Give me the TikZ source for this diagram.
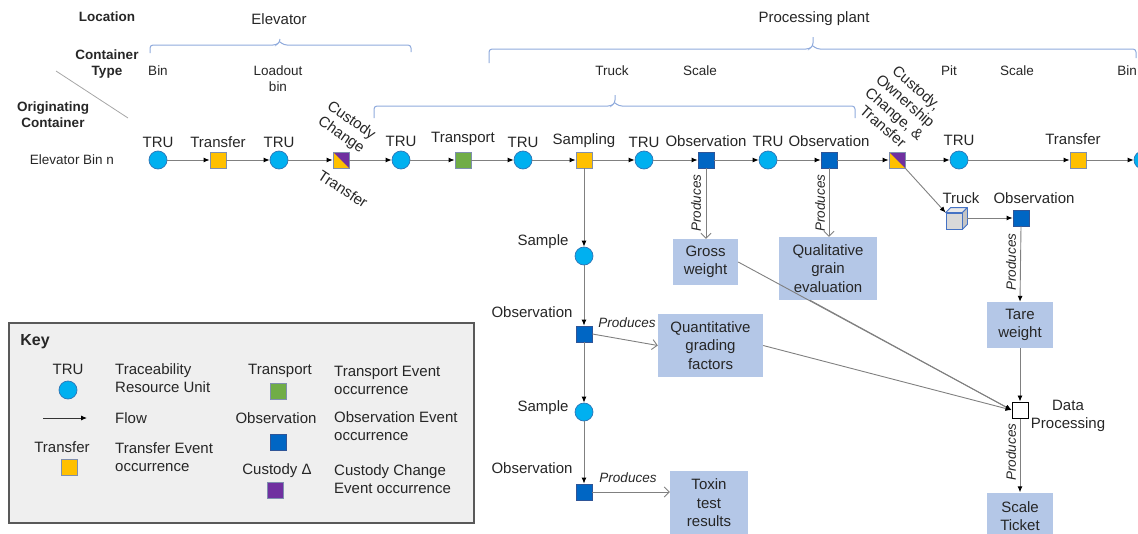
\documentclass[tikz,border=0pt]{standalone}
\usepackage{fontspec}
\setmainfont{Liberation Sans}
\usetikzlibrary{arrows.meta}
\definecolor{truFill}{HTML}{00B0F0}
\definecolor{truEdge}{HTML}{2E75B6}
\definecolor{xferFill}{HTML}{FFC000}
\definecolor{evtEdge}{HTML}{7F8FAF}
\definecolor{transFill}{HTML}{70AD47}
\definecolor{obsFill}{HTML}{0066C4}
\definecolor{obsEdge}{HTML}{2F5597}
\definecolor{custFill}{HTML}{7030A0}
\definecolor{dataFill}{HTML}{B4C7E7}
\definecolor{braceCol}{HTML}{8FAADC}
\definecolor{flowCol}{HTML}{808080}
\definecolor{keyFill}{HTML}{EFEFEF}
\definecolor{keyEdge}{HTML}{595959}
\definecolor{cubeFill}{HTML}{D9D9D9}
\definecolor{cubeTop}{HTML}{E8E8E8}
\definecolor{cubeSide}{HTML}{C4C4C4}
\definecolor{cubeEdge}{HTML}{4472C4}
\definecolor{textCol}{HTML}{262626}
\begin{document}
\begin{tikzpicture}[x=1pt,y=-1pt,
  every node/.style={inner sep=0pt, text=textCol},
  lab/.style={font=\fontsize{15}{17.5}\selectfont, align=center},
  sml/.style={font=\fontsize{13.5}{16}\selectfont, align=center},
  hdr/.style={font=\bfseries\fontsize{13.5}{16}\selectfont, align=center},
  keytxt/.style={font=\fontsize{15}{18}\selectfont, align=left, anchor=west},
  prodlab/.style={font=\itshape\fontsize{13.5}{16}\selectfont},
  tru/.style={circle, fill=truFill, draw=truEdge, line width=0.7pt, minimum size=18pt},
  evt/.style={rectangle, draw=evtEdge, line width=0.8pt, minimum size=16pt},
  xfer/.style={evt, fill=xferFill},
  transp/.style={evt, fill=transFill},
  obs/.style={evt, fill=obsFill, draw=obsEdge},
  cust/.style={evt, fill=custFill},
  split/.style={evt, fill=xferFill, path picture={
      \fill[custFill] (path picture bounding box.north west) --
        (path picture bounding box.north east) --
        (path picture bounding box.south east) -- cycle;}},
  procsq/.style={rectangle, fill=white, draw=black, line width=1pt, minimum size=16pt},
  databox/.style={rectangle, fill=dataFill, align=center,
      font=\fontsize{15}{18.5}\selectfont},
  flow/.style={draw=flowCol, line width=0.9pt, -{Latex[length=6pt,width=5pt,color=black]}},
  prod/.style={draw=flowCol, line width=0.9pt, -{Straight Barb[length=5pt,width=10pt]}},
  brace/.style={draw=braceCol, line width=1pt, rounded corners=3pt},
  cubeface/.style={draw=cubeEdge, line width=0.8pt, line join=round}
]
\useasboundingbox (0,0) rectangle (1138,533);

% ---------- header rows ----------
\node[hdr] (hLoc) at (107,17) {Location};
\node[hdr] (hCont) at (107,64) {Container\\Type};
\node[hdr] (hOrig) at (53,115) {Originating\\Container};
\draw[draw=flowCol!70, line width=0.8pt] (56,71) -- (128,118);
\node[sml] (rowName) at (72,160) {Elevator Bin n};

\node[lab] (locElev) at (279,19) {Elevator};
\node[lab] (locProc) at (814,19) {Processing plant};

\node[sml] (ctBin) at (158,71) {Bin};
\node[sml] (ctLoad) at (278,79) {Loadout\\bin};
\node[sml] (ctTruck) at (612,71) {Truck};
\node[sml] (ctScale) at (700,71) {Scale};
\node[sml] (ctPit) at (949,71) {Pit};
\node[sml] (ctScale2) at (1017,71) {Scale};
\node[sml] (ctBin2) at (1127,71) {Bin};

% location and container braces
\draw[brace] (150,53) -- (150,45) -- (276,45) -- (280,42) -- (280,39)
  (280,42) -- (284,45) -- (411,45) -- (411,52);
\draw[brace] (489,63) -- (489,49) -- (809,49) -- (813,46) -- (813,37)
  (813,46) -- (817,49) -- (1136,49) -- (1136,58);
\draw[brace] (374,118) -- (374,106) -- (611,106) -- (615,103) -- (615,95)
  (615,103) -- (619,106) -- (855,106) -- (855,118);

% ---------- main chain ----------
\node[tru] (n1) at (158,160) {};
\node[xfer] (t1) at (218,160) {};
\node[tru] (n2) at (279,160) {};
\node[split] (c1) at (341,160) {};
\node[tru] (n3) at (401,160) {};
\node[transp] (tp) at (463,160) {};
\node[tru] (n4) at (523,160) {};
\node[xfer] (smp) at (584,160) {};
\node[tru] (n5) at (644,160) {};
\node[obs] (o1) at (706,160) {};
\node[tru] (n6) at (768,160) {};
\node[obs] (o2) at (829,160) {};
\node[split] (c2) at (897,160) {};
\node[tru] (n7) at (959,160) {};
\node[xfer] (t2) at (1078,160) {};
\node[tru] (n8) at (1143,160) {};

\node[lab] (ln1) at (158,142) {TRU};
\node[lab] (lt1) at (218,142) {Transfer};
\node[lab] (ln2) at (279,142) {TRU};
\node[lab, rotate=-35] (lc1) at (346,128) {Custody\\Change};
\node[lab, rotate=-33] (lc1b) at (343,189) {Transfer};
\node[lab] (ln3) at (401,141) {TRU};
\node[lab] (ltp) at (463,139) {Transport};
\node[lab] (ln4) at (523,142) {TRU};
\node[lab] (lsmp) at (584,141) {Sampling};
\node[lab] (ln5) at (644,142) {TRU};
\node[lab] (lo1) at (706,141) {Observation};
\node[lab] (ln6) at (768,141) {TRU};
\node[lab] (lo2) at (829,141) {Observation};
\node[lab, rotate=-41, font=\fontsize{15}{17}\selectfont] (lc2) at (900,107)
  {Custody,\\Ownership\\Change, \&\\Transfer};
\node[lab] (ln7) at (959,140) {TRU};
\node[lab] (lt2) at (1073,139) {Transfer};

\draw[flow] (n1) -- (t1);
\draw[flow] (t1) -- (n2);
\draw[flow] (n2) -- (c1);
\draw[flow] (c1) -- (n3);
\draw[flow] (n3) -- (tp);
\draw[flow] (tp) -- (n4);
\draw[flow] (n4) -- (smp);
\draw[flow] (smp) -- (n5);
\draw[flow] (n5) -- (o1);
\draw[flow] (o1) -- (n6);
\draw[flow] (n6) -- (o2);
\draw[flow] (o2) -- (c2);
\draw[flow] (c2) -- (n7);
\draw[flow] (n7) -- (t2);
\draw[flow] (t2) -- (n8);

% ---------- sampling branch ----------
\node[tru] (s1) at (584,256) {};
\node[obs] (so1) at (584,334) {};
\node[tru] (s2) at (584,412) {};
\node[obs] (so2) at (584,492) {};
\node[lab] (ls1) at (543,242) {Sample};
\node[lab] (lso1) at (532,312) {Observation};
\node[lab] (ls2) at (543,408) {Sample};
\node[lab] (lso2) at (532,468) {Observation};

\draw[flow] (smp) -- (s1);
\draw[flow] (s1) -- (so1);
\draw[flow] (so1) -- (s2);
\draw[flow] (s2) -- (so2);

% ---------- data products ----------
\node[databox, minimum width=65pt, minimum height=46pt] (gross) at (705.5,262) {Gross\\weight};
\node[databox, minimum width=98pt, minimum height=63pt] (qual) at (828,268.5) {Qualitative\\grain\\evaluation};
\node[databox, minimum width=105pt, minimum height=63pt] (quant) at (710.5,345.5) {Quantitative\\grading\\factors};
\node[databox, minimum width=78pt, minimum height=65pt] (toxin) at (709,503) {Toxin\\test\\results};
\node[databox, minimum width=66pt, minimum height=46pt] (tare) at (1020,325) {Tare\\weight};
\node[databox, minimum width=66pt, minimum height=47pt] (ticket) at (1020,516) {Scale\\Ticket};

\draw[prod] (o1.south) -- (o1.south |- gross.north);
\node[prodlab, rotate=90] (p1) at (696,203) {Produces};
\draw[prod] (o2.south) -- (o2.south |- qual.north);
\node[prodlab, rotate=90] (p2) at (820,203) {Produces};
\draw[prod] (so1.east) -- (quant.west);
\node[prodlab] (p3) at (627,323) {Produces};
\draw[prod] (so2.east) -- (so2.east -| toxin.west);
\node[prodlab] (p4) at (628,478) {Produces};

% ---------- truck tare branch ----------
\node[rectangle, fill=cubeFill, draw=cubeEdge, line width=0.8pt, minimum size=16pt] (truck) at (954,221) {};
\draw[cubeface, fill=cubeTop] (truck.north west) -- ([shift={(5pt,5pt)}]truck.north west)
  -- ([shift={(5pt,5pt)}]truck.north east) -- (truck.north east) -- cycle;
\draw[cubeface, fill=cubeSide] (truck.north east) -- ([shift={(5pt,5pt)}]truck.north east)
  -- ([shift={(5pt,5pt)}]truck.south east) -- (truck.south east) -- cycle;
\node[lab] (ltruck) at (961,198) {Truck};
\node[obs] (tobs) at (1021,218) {};
\node[lab] (ltobs) at (1034,198) {Observation};

\draw[flow] (c2.south east) -- (truck.north west);
\draw[flow] ([xshift=5pt,yshift=3pt]truck.east) -- (tobs.west);
\draw[flow] (tobs.south) -- (tare.north);
\node[prodlab, rotate=90] (p5) at (1011,262) {Produces};

% ---------- data processing ----------
\node[procsq] (dp) at (1020,410) {};
\node[lab] (ldp) at (1068,416) {Data\\Processing};
\draw[flow] (gross.east) -- (dp.west);
\draw[flow] ([xshift=-18pt]qual.south) -- (dp.west);
\draw[flow] (quant.east) -- (dp.west);
\draw[flow] (tare.south) -- (dp.north);
\draw[flow] (dp.south) -- (ticket.north);
\node[prodlab, rotate=90] (p6) at (1011,452) {Produces};

% ---------- key ----------
\node[rectangle, fill=keyFill, draw=keyEdge, line width=1.2pt,
      minimum width=465pt, minimum height=200pt] (key) at (241.5,423) {};
\node[font=\bfseries\fontsize{16}{18}\selectfont] (keyTitle) at (35,342) {Key};

\node[lab] (kTruLab) at (68,369) {TRU};
\node[tru] (kTru) at (68,390) {};
\node[keytxt] (kTruTxt) at (115,378) {Traceability\\Resource Unit};

\coordinate (kFlowA) at (43,418);
\coordinate (kFlowB) at (87,418);
\draw[flow, draw=black!80] (kFlowA) -- (kFlowB);
\node[keytxt] (kFlowTxt) at (115,418) {Flow};

\node[lab] (kXferLab) at (62,447) {Transfer};
\node[xfer] (kXfer) at (69,467) {};
\node[keytxt] (kXferTxt) at (115,457) {Transfer Event\\occurrence};

\node[lab] (kTpLab) at (280,371) {Transport};
\node[transp] (kTp) at (278,391) {};
\node[keytxt] (kTpTxt) at (334,380) {Transport Event\\occurrence};

\node[lab] (kObsLab) at (276,418) {Observation};
\node[obs] (kObs) at (278,442) {};
\node[keytxt] (kObsTxt) at (334,426.5) {Observation Event\\occurrence};

\node[lab] (kCustLab) at (277,471) {Custody Δ};
\node[cust] (kCust) at (275,490) {};
\node[keytxt] (kCustTxt) at (334,479.5) {Custody Change\\Event occurrence};
\end{tikzpicture}
\end{document}
